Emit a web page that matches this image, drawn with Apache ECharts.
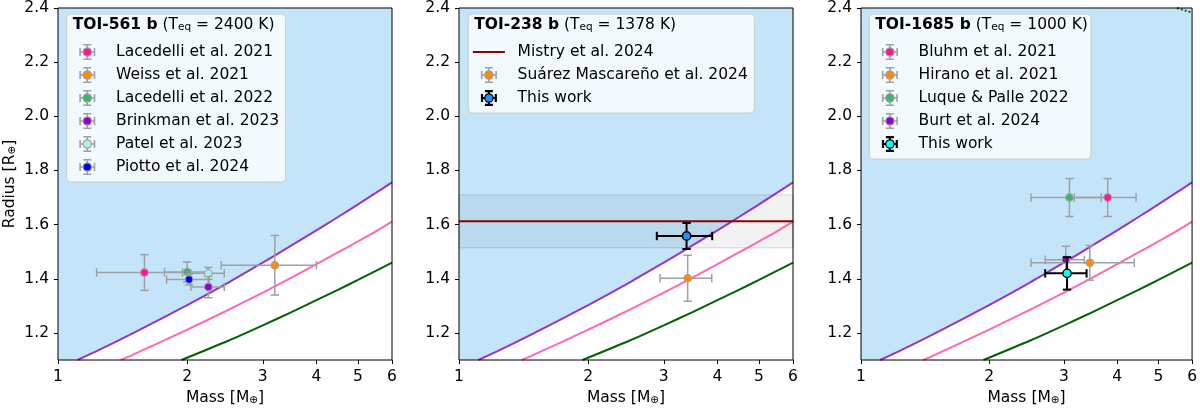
<!DOCTYPE html>
<html>
<head>
<meta charset="utf-8">
<script src="https://cdn.jsdelivr.net/npm/echarts@6/dist/echarts.min.js"></script>
<style>
  html, body { margin: 0; padding: 0; background: #fff; }
  #chart { width: 1200px; height: 411px; }
</style>
</head>
<body>
<div id="chart"></div>
<script>
// composition curves (mass in M_earth, radius in R_earth)
const purpleMass = [1.11, 1.25, 1.5, 2, 2.5, 3, 3.5, 4, 4.5, 5, 5.5, 6];
const purpleRadius = [1.10, 1.138, 1.200, 1.303, 1.387, 1.460, 1.523, 1.579, 1.629, 1.675, 1.717, 1.756];
const pinkMass = [1.40, 1.5, 2, 2.5, 3, 3.5, 4, 4.5, 5, 5.5, 6];
const pinkRadius = [1.10, 1.121, 1.212, 1.286, 1.349, 1.404, 1.454, 1.498, 1.538, 1.575, 1.611];
const greenMass = [1.94, 2.5, 3, 3.5, 4, 4.5, 5, 5.5, 6];
const greenRadius = [1.10, 1.172, 1.228, 1.277, 1.321, 1.36, 1.396, 1.429, 1.46];
const dottedMass = [5.53, 6];
const dottedRadius = [2.40, 2.383];

// TOI-561 b
const toi561Refs = ['Lacedelli et al. 2021', 'Weiss et al. 2021', 'Lacedelli et al. 2022',
  'Brinkman et al. 2023', 'Patel et al. 2023', 'Piotto et al. 2024'];
const toi561Mass = [1.59, 3.2, 2.0, 2.24, 2.24, 2.02];
const toi561MassErr = [0.36, 0.8, 0.23, 0.20, 0.20, 0.23];
const toi561Radius = [1.423, 1.45, 1.425, 1.37, 1.42, 1.397];
const toi561RadiusErr = [0.066, 0.11, 0.037, 0.04, 0.022, 0.02];

// TOI-238 b
const mistryRadius = 1.612;
const mistryRadiusErr = 0.098;
const toi238Refs = ['Suárez Mascareño et al. 2024', 'This work'];
const toi238Mass = [3.41, 3.39];
const toi238MassErr = [0.47, 0.50];
const toi238Radius = [1.402, 1.558];
const toi238RadiusErr = [0.085, 0.048];

// TOI-1685 b
const toi1685Refs = ['Bluhm et al. 2021', 'Hirano et al. 2021', 'Luque & Palle 2022',
  'Burt et al. 2024', 'This work'];
const toi1685Mass = [3.80, 3.45, 3.09, 3.03, 3.05];
const toi1685MassErr = [0.63, 0.94, 0.58, 0.32, 0.34];
const toi1685Radius = [1.70, 1.459, 1.70, 1.47, 1.42];
const toi1685RadiusErr = [0.07, 0.064, 0.07, 0.05, 0.06];

const massTicks = [1, 2, 3, 4, 5, 6];
const radiusTicks = [1.2, 1.4, 1.6, 1.8, 2.0, 2.2, 2.4];

const FONT = 'DejaVu Sans';
const FS = 15.5;
const BLUE_FILL = '#c4e5f9';
const GRAY = '#a0a0a0';

const pairs = (xs, ys) => xs.map((x, i) => [x, ys[i]]);

const chart = echarts.init(document.getElementById('chart'));

const grids = [
  { left: 58, top: 6, width: 334, height: 357 },
  { left: 459, top: 6, width: 334, height: 357 },
  { left: 861, top: 6, width: 333, height: 357 }
].map(g => Object.assign({ show: true, borderColor: '#000', borderWidth: 1, backgroundColor: 'transparent', z: 10 }, g));

const subRich = { s: { fontSize: 10.5, fontFamily: FONT, color: '#000', verticalAlign: 'bottom' } };

const xAxes = grids.map((g, i) => ({
  type: 'log', logBase: 10, min: 1, max: 6, gridIndex: i,
  axisLine: { show: false },
  axisTick: { show: true, length: 4, customValues: massTicks, lineStyle: { color: '#000' } },
  axisLabel: { customValues: massTicks, fontSize: FS, color: '#000', fontFamily: FONT, margin: 9 },
  splitLine: { show: false }, minorTick: { show: false },
  name: 'Mass [M{s|⊕}]', nameLocation: 'middle', nameGap: 30,
  nameTextStyle: { fontSize: FS, color: '#000', fontFamily: FONT, rich: subRich }
}));

const yAxes = grids.map((g, i) => ({
  type: 'value', min: 1.1, max: 2.4, gridIndex: i,
  axisLine: { show: false },
  axisTick: { show: true, length: 4, customValues: radiusTicks, lineStyle: { color: '#000' } },
  axisLabel: { customValues: radiusTicks, fontSize: FS, color: '#000', fontFamily: FONT, margin: 9,
    formatter: v => v.toFixed(1) },
  splitLine: { show: false },
  name: i === 0 ? 'Radius [R{s|⊕}]' : '', nameLocation: 'middle', nameGap: 40, nameRotate: 90,
  nameTextStyle: { fontSize: FS, color: '#000', fontFamily: FONT, rich: subRich }
}));

const series = [];

function addCurves(i) {
  series.push({
    type: 'line', xAxisIndex: i, yAxisIndex: i, silent: true, symbol: 'none', smooth: 0.25,
    data: [[1, 1.1]].concat(pairs(purpleMass, purpleRadius)),
    lineStyle: { opacity: 0 },
    areaStyle: { color: BLUE_FILL, opacity: 1, origin: 'end' },
    z: 1
  });
  const curves = [
    [purpleMass, purpleRadius, '#9932cc'],
    [pinkMass, pinkRadius, '#ff69b4'],
    [greenMass, greenRadius, '#006400']
  ];
  curves.forEach(([xs, ys, c]) => series.push({
    type: 'line', xAxisIndex: i, yAxisIndex: i, silent: true, symbol: 'none', smooth: 0.25,
    data: pairs(xs, ys), lineStyle: { color: c, width: 2 }, z: 2
  }));
}

function refSeries(i, name, m, me, r, re, fill, own) {
  const stroke = own ? '#000' : GRAY;
  const lw = own ? 2 : 1.5;
  const cap = 4.2;
  return {
    type: 'custom', name, xAxisIndex: i, yAxisIndex: i, silent: true,
    encode: { x: 0, y: 2 },
    data: [[m, me, r, re]],
    z: 3,
    renderItem(params, api) {
      const mm = api.value(0), e = api.value(1), rr = api.value(2), er = api.value(3);
      const c = api.coord([mm, rr]);
      const lft = api.coord([mm - e, rr]);
      const rgt = api.coord([mm + e, rr]);
      const top = api.coord([mm, rr + er]);
      const bot = api.coord([mm, rr - er]);
      const st = { stroke, lineWidth: lw };
      const line = (x1, y1, x2, y2) => ({ type: 'line', shape: { x1, y1, x2, y2 }, style: st });
      return {
        type: 'group',
        children: [
          line(lft[0], c[1], rgt[0], c[1]),
          line(c[0], top[1], c[0], bot[1]),
          line(lft[0], c[1] - cap, lft[0], c[1] + cap),
          line(rgt[0], c[1] - cap, rgt[0], c[1] + cap),
          line(c[0] - cap, top[1], c[0] + cap, top[1]),
          line(c[0] - cap, bot[1], c[0] + cap, bot[1]),
          { type: 'circle', shape: { cx: c[0], cy: c[1], r: own ? 4.2 : 3.8 },
            style: { fill, stroke, lineWidth: own ? 1.4 : 1.1 } }
        ]
      };
    }
  };
}

// panel 1
addCurves(0);
const toi561Fill = ['#ff1493', '#ff8c00', '#3cb371', '#9400d3', '#afeeee', '#0000ff'];
toi561Refs.forEach((n, k) => series.push(refSeries(0, n, toi561Mass[k], toi561MassErr[k],
  toi561Radius[k], toi561RadiusErr[k], toi561Fill[k], false)));

// panel 2
addCurves(1);
series.push({
  type: 'line', name: 'Mistry et al. 2024', xAxisIndex: 1, yAxisIndex: 1, silent: true, symbol: 'none',
  data: [[1, mistryRadius], [6, mistryRadius]], lineStyle: { color: '#8b0000', width: 2 }, z: 2,
  markArea: {
    silent: true, z: 1.5,
    label: { show: false },
    itemStyle: { color: 'rgba(0,0,0,0.05)', borderColor: 'rgba(0,0,0,0.13)', borderWidth: 1 },
    data: [[{ yAxis: mistryRadius - mistryRadiusErr }, { yAxis: mistryRadius + mistryRadiusErr }]]
  }
});
const toi238Fill = ['#ff8c00', '#1e90ff'];
toi238Refs.forEach((n, k) => series.push(refSeries(1, n, toi238Mass[k], toi238MassErr[k],
  toi238Radius[k], toi238RadiusErr[k], toi238Fill[k], n === 'This work')));

// panel 3
addCurves(2);
series.push({
  type: 'line', xAxisIndex: 2, yAxisIndex: 2, silent: true, symbol: 'none',
  data: pairs(dottedMass, dottedRadius), lineStyle: { color: '#006400', width: 2, type: 'dotted' }, z: 2
});
const toi1685Fill = ['#ff1493', '#ff8c00', '#3cb371', '#9400d3', '#00ffff'];
toi1685Refs.forEach((n, k) => series.push(refSeries(2, n, toi1685Mass[k], toi1685MassErr[k],
  toi1685Radius[k], toi1685RadiusErr[k], toi1685Fill[k], n === 'This work')));

// legend icons live in a 32x16 box; tiny corner specks pin the bounding box
const BOX = 'M0,0h0.01v0.01h-0.01z M31.99,15.99h0.01v0.01h-0.01z ';
function crossIcon(w) {
  const a = 16 - w / 2, b = 8 - w / 2;
  return 'path://' + BOX +
    `M${a},0h${w}v16h${-w}z M8,${b}h16v${w}h-16z ` +
    `M12,0h8v${w}h-8z M12,${16 - w}h8v${w}h-8z M8,4h${w}v8h${-w}z M${24 - w},4h${w}v8h${-w}z ` +
    'M20.8,8A4.8,4.8 0 1 1 11.2,8A4.8,4.8 0 1 1 20.8,8z';
}
const dotIcon = 'path://' + BOX + 'M19.6,8A3.6,3.6 0 1 1 12.4,8A3.6,3.6 0 1 1 19.6,8z';
const lineIcon = 'path://' + BOX + 'M0,6.9h32v2.2h-32z';

const measure = document.createElement('canvas').getContext('2d');
measure.font = FS + 'px "' + FONT + '"';

const legends = [];
const titles = [];
function addLegend(names, fills, left, right, titleText) {
  const padL = 4.6, textPad = 7.7;
  const textStart = left + padL + 32 + 5 + textPad;
  const widest = Math.max(...names.map(n => measure.measureText(n).width));
  const padR = Math.max(2, right - textStart - widest);
  const base = {
    orient: 'vertical', left, top: 14, selectedMode: false,
    itemWidth: 32, itemHeight: 16, itemGap: 7,
    padding: [30, padR, 7, padL],
    backgroundColor: 'rgba(255,255,255,0.8)', borderColor: '#cccccc', borderWidth: 1, borderRadius: 4,
    textStyle: { fontSize: FS, fontFamily: FONT, color: '#000', padding: [0, 0, 0, textPad] },
    z: 11,
    data: names.map((n, k) => {
      if (fills[k] === null) return { name: n, icon: lineIcon, itemStyle: { color: '#8b0000', borderWidth: 0 } };
      const own = n === 'This work';
      return { name: n, icon: crossIcon(own ? 2.2 : 1.6), itemStyle: { color: own ? '#000' : GRAY, borderWidth: 0 } };
    })
  };
  const overlay = Object.assign({}, base, {
    backgroundColor: 'transparent', borderWidth: 0, z: 12,
    textStyle: Object.assign({}, base.textStyle, { color: 'rgba(0,0,0,0)' }),
    data: names.map((n, k) => ({ name: n, icon: dotIcon,
      itemStyle: { color: fills[k] === null ? 'rgba(0,0,0,0)' : fills[k], borderWidth: 0 } }))
  });
  legends.push(base, overlay);
  titles.push({
    left: left + 6, top: 17, z: 13, padding: 0,
    text: titleText,
    textStyle: {
      fontSize: FS, fontFamily: FONT, color: '#000', fontWeight: 'normal',
      rich: {
        b: { fontSize: FS, fontFamily: FONT, fontWeight: 'bold', color: '#000' },
        n: { fontSize: FS, fontFamily: FONT, color: '#000' },
        s: { fontSize: 10.5, fontFamily: FONT, color: '#000', verticalAlign: 'bottom' }
      }
    }
  });
}
addLegend(toi561Refs, toi561Fill, 66.7, 285.7, '{b|TOI-561 b} {n|(T}{s|eq}{n| = 2400 K)}');
addLegend(['Mistry et al. 2024'].concat(toi238Refs), [null].concat(toi238Fill), 468.3, 754.3,
  '{b|TOI-238 b} {n|(T}{s|eq}{n| = 1378 K)}');
addLegend(toi1685Refs, toi1685Fill, 869.3, 1091, '{b|TOI-1685 b} {n|(T}{s|eq}{n| = 1000 K)}');

chart.setOption({
  animation: false,
  backgroundColor: '#fff',
  textStyle: { fontFamily: FONT },
  title: titles,
  legend: legends,
  grid: grids,
  xAxis: xAxes,
  yAxis: yAxes,
  series
});
</script>
</body>
</html>
